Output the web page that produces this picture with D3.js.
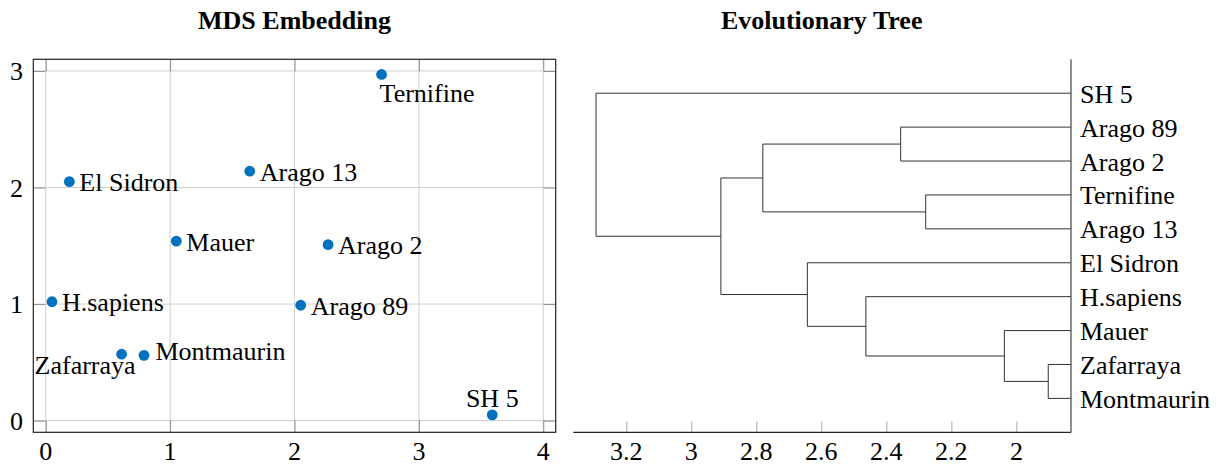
<!DOCTYPE html>
<html><head><meta charset="utf-8">
<script src="https://cdn.jsdelivr.net/npm/d3@7"></script>
<style>
html,body{margin:0;padding:0;background:#fff;}
text{font-family:"Liberation Serif","Times New Roman",serif;fill:#000;}
</style></head>
<body>
<svg id="chart" width="1220" height="465"></svg>
<script>
// ---- MDS embedding data ----
const names = ["Ternifine","El Sidron","Arago 13","Mauer","Arago 2","H.sapiens","Arago 89","Zafarraya","Montmaurin","SH 5"];
const mdsX  = [2.70, 0.19, 1.64, 1.05, 2.27, 0.05, 2.05, 0.61, 0.79, 3.59];
const mdsY  = [2.97, 2.05, 2.14, 1.54, 1.51, 1.02, 0.99, 0.57, 0.56, 0.05];
const labelPos = ["below","right","right","right","right","right","right","belowleft","rightup","above"];
const mdsXTicks = [0,1,2,3,4];
const mdsYTicks = [0,1,2,3];

// ---- Dendrogram data (linkage) ----
const leaves = ["SH 5","Arago 89","Arago 2","Ternifine","Arago 13","El Sidron","H.sapiens","Mauer","Zafarraya","Montmaurin"];
// merge k creates node id leaves.length + k
const mergeA = [8, 7, 1, 3, 6, 5, 12, 16, 0];
const mergeB = [9, 10, 2, 4, 11, 14, 13, 15, 17];
const mergeH = [1.902, 2.037, 2.356, 2.279, 2.463, 2.643, 2.780, 2.909, 3.293];
const treeTicks = [3.2, 3.0, 2.8, 2.6, 2.4, 2.2, 2.0];

const svg = d3.select("#chart");
const FS = 26;

// ================= LEFT: MDS =================
const L = {x0:33.3, x1:555.7, y0:59.3, y1:432.3};
const xs = d3.scaleLinear().domain([-0.1, 4.1]).range([L.x0, L.x1]);
const ys = d3.scaleLinear().domain([-0.1, 3.1]).range([L.y1, L.y0]);
const gl = svg.append("g");

// grid
gl.selectAll(".gx").data(mdsXTicks).join("line")
  .attr("x1", d=>xs(d)).attr("x2", d=>xs(d)).attr("y1", L.y0).attr("y2", L.y1)
  .attr("stroke", "#cfcfcf").attr("stroke-width", 1);
gl.selectAll(".gy").data(mdsYTicks).join("line")
  .attr("y1", d=>ys(d)).attr("y2", d=>ys(d)).attr("x1", L.x0).attr("x2", L.x1)
  .attr("stroke", "#cfcfcf").attr("stroke-width", 1);

// axes via d3 (inside ticks, all four sides)
const tl = 12;
const axB = d3.axisBottom(xs).tickValues(mdsXTicks).tickSize(-tl).tickFormat("");
const axT = d3.axisTop(xs).tickValues(mdsXTicks).tickSize(-tl).tickFormat("");
const axLf = d3.axisLeft(ys).tickValues(mdsYTicks).tickSize(-tl).tickFormat("");
const axR = d3.axisRight(ys).tickValues(mdsYTicks).tickSize(-tl).tickFormat("");
[[axB,`translate(0,${L.y1})`],[axT,`translate(0,${L.y0})`],[axLf,`translate(${L.x0},0)`],[axR,`translate(${L.x1},0)`]].forEach(([a,t])=>{
  const g = gl.append("g").attr("transform", t).call(a);
  g.select(".domain").remove();
  g.selectAll(".tick line").attr("stroke", "#909090");
});
// box
gl.append("rect").attr("x", L.x0).attr("y", L.y0).attr("width", L.x1-L.x0).attr("height", L.y1-L.y0)
  .attr("fill", "none").attr("stroke", "#222").attr("stroke-width", 1.2);

// tick labels
gl.selectAll(".xl").data(mdsXTicks).join("text")
  .attr("x", d=>xs(d)).attr("y", 460).attr("text-anchor", "middle").attr("font-size", FS).text(d=>d);
gl.selectAll(".yl").data(mdsYTicks).join("text")
  .attr("x", 23).attr("y", d=>ys(d)+9).attr("text-anchor", "end").attr("font-size", FS).text(d=>d);

// points
const idx = d3.range(names.length);
gl.selectAll(".pt").data(idx).join("circle")
  .attr("cx", i=>xs(mdsX[i])).attr("cy", i=>ys(mdsY[i])).attr("r", 5.4).attr("fill", "#0072BD");

// point labels
const off = {
  right:    {dx:10, dy:9.5, a:"start"},
  rightup:  {dx:11.5, dy:4.5, a:"start"},
  below:    {dx:-2, dy:28, a:"start"},
  above:    {dx:0, dy:-8, a:"middle"},
  belowleft:{dx:14, dy:20, a:"end"}
};
gl.selectAll(".pl").data(idx).join("text")
  .attr("x", i=>xs(mdsX[i]) + off[labelPos[i]].dx)
  .attr("y", i=>ys(mdsY[i]) + off[labelPos[i]].dy)
  .attr("text-anchor", i=>off[labelPos[i]].a)
  .attr("font-size", FS).text(i=>names[i]);

// title
gl.append("text").attr("x", 294.5).attr("y", 29.3).attr("text-anchor", "middle")
  .attr("font-size", FS).attr("font-weight", "bold").text("MDS Embedding");

// ================= RIGHT: Dendrogram =================
const R = {x0:573.3, x1:1071, y0:59.3, y1:432.3};
const tx = d3.scaleLinear().domain([3.363, 1.832]).range([R.x0, R.x1]);
const ty = d3.scaleLinear().domain([-1, leaves.length]).range([R.y0, R.y1]);
const gr = svg.append("g");

// compute node positions
const nodeX = [], nodeY = [];
leaves.forEach((d,i)=>{ nodeX[i] = R.x1; nodeY[i] = ty(i); });
const segs = [];
mergeH.forEach((h,k)=>{
  const id = leaves.length + k, a = mergeA[k], b = mergeB[k];
  const x = tx(h);
  nodeX[id] = x; nodeY[id] = (nodeY[a] + nodeY[b]) / 2;
  segs.push([x, nodeY[a], nodeX[a], nodeY[a]]);
  segs.push([x, nodeY[b], nodeX[b], nodeY[b]]);
  segs.push([x, nodeY[a], x, nodeY[b]]);
});

// bottom axis ticks (inside)
const axTree = d3.axisBottom(tx).tickValues(treeTicks).tickSize(-11).tickFormat("");
const ga = gr.append("g").attr("transform", `translate(0,${R.y1})`).call(axTree);
ga.select(".domain").remove();
ga.selectAll(".tick line").attr("stroke", "#aaa");
gr.selectAll(".tl").data(treeTicks).join("text")
  .attr("x", d=>tx(d)).attr("y", 460).attr("text-anchor", "middle").attr("font-size", FS)
  .text(d=>d3.format("~g")(d));

gr.selectAll(".seg").data(segs).join("line")
  .attr("x1", d=>d[0]).attr("y1", d=>d[1]).attr("x2", d=>d[2]).attr("y2", d=>d[3])
  .attr("stroke", "#333").attr("stroke-width", 1);

// axis lines
gr.append("line").attr("x1", R.x0).attr("x2", R.x1).attr("y1", R.y1).attr("y2", R.y1)
  .attr("stroke", "#222").attr("stroke-width", 1.2);
gr.append("line").attr("x1", R.x1).attr("x2", R.x1).attr("y1", R.y0).attr("y2", R.y1)
  .attr("stroke", "#444").attr("stroke-width", 1.2);

// leaf labels
gr.selectAll(".ll").data(leaves).join("text")
  .attr("x", R.x1 + 9).attr("y", (d,i)=>ty(i) + 9.5).attr("font-size", FS).text(d=>d);

gr.append("text").attr("x", 821.7).attr("y", 29.3).attr("text-anchor", "middle")
  .attr("font-size", FS).attr("font-weight", "bold").text("Evolutionary Tree");
</script>
</body></html>
